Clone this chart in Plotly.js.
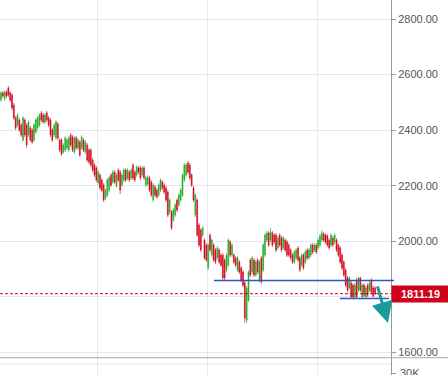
<!DOCTYPE html>
<html>
<head>
<meta charset="utf-8">
<script src="https://cdn.plot.ly/plotly-3.0.1.min.js"></script>
<style>html,body{margin:0;padding:0;background:#fff;}#chart{width:448px;height:375px;}</style>
</head>
<body>
<div id="chart"></div>
<script>
const openP = [2508,2534,2512,2537,2552,2534,2526,2490,2444,2418,
2436,2418,2364,2436,2418,2382,2408,2400,2364,2393,
2408,2418,2462,2454,2429,2462,2444,2436,2400,2382,
2372,2422,2364,2364,2321,2328,2336,2328,2382,2375,
2321,2372,2336,2357,2336,2364,2321,2346,2328,2328,
2292,2274,2264,2210,2238,2220,2202,2156,2166,2184,
2238,2213,2249,2199,2256,2249,2202,2220,2256,2228,
2249,2228,2274,2249,2238,2264,2264,2238,2264,2202,
2206,2228,2213,2148,2195,2184,2166,2184,2213,2202,
2192,2177,2105,2105,2076,2094,2148,2130,2148,2166,
2220,2238,2282,2274,2238,2192,2094,2148,2058,2040,
2022,2004,1986,1904,2022,1950,1986,1968,1940,1968,
1950,1950,1932,1896,1914,1997,1950,1950,1940,1896,
1925,1904,1889,1850,1716,1788,1932,1889,1932,1878,
1932,1860,1940,1896,1950,2004,2030,2004,2030,2022,
2022,1976,2022,2012,1976,2004,1997,1986,1968,1950,
1925,1940,1976,1940,1914,1950,1925,1968,1940,1950,
1986,1968,1986,1976,1986,2004,2026,2022,2019,2004,
1986,2012,1997,2004,1986,1976,1950,1925,1896,1868,
1832,1850,1842,1799,1860,1824,1868,1799,1842,1799,
1842,1824,1860,1832,1832];
const highP = [2541,2541,2544,2544,2559,2541,2533,2498,2451,2461,
2443,2425,2451,2443,2425,2436,2415,2407,2425,2443,
2451,2461,2469,2461,2461,2469,2451,2443,2407,2425,
2436,2429,2371,2371,2353,2379,2371,2379,2389,2382,
2379,2379,2371,2364,2382,2371,2364,2353,2335,2335,
2299,2281,2271,2256,2245,2227,2209,2191,2227,2235,
2245,2256,2256,2245,2263,2256,2245,2263,2263,2263,
2256,2263,2281,2256,2274,2271,2271,2271,2271,2235,
2238,2235,2220,2209,2202,2191,2209,2227,2220,2209,
2199,2184,2155,2112,2119,2137,2155,2173,2191,2245,
2281,2281,2289,2281,2245,2199,2173,2155,2065,2047,
2055,2011,1993,1993,2029,2011,1993,1975,1983,1975,
1957,1957,1939,1957,2011,2004,1993,1957,1947,1947,
1932,1911,1896,1857,1839,1896,1939,1947,1939,1932,
1939,1932,1947,1993,2029,2037,2037,2048,2037,2029,
2029,2019,2029,2019,2019,2011,2004,1993,1975,1957,
1968,1975,1983,1947,1957,1957,1968,1975,1975,1993,
1993,1993,1993,2011,2026,2040,2033,2029,2026,2011,
2029,2019,2029,2011,1993,1983,1957,1932,1903,1875,
1875,1857,1849,1849,1867,1872,1872,1849,1849,1839,
1849,1857,1867,1839,1839];
const lowP = [2501,2516,2505,2516,2519,2501,2472,2436,2400,2411,
2393,2375,2357,2375,2336,2375,2357,2350,2357,2386,
2400,2411,2429,2422,2422,2429,2411,2375,2357,2375,
2364,2364,2321,2307,2314,2321,2328,2321,2339,2321,
2314,2328,2328,2303,2328,2321,2314,2285,2278,2267,
2249,2231,2213,2202,2184,2177,2141,2148,2159,2177,
2195,2206,2206,2192,2213,2170,2195,2213,2213,2220,
2213,2220,2220,2213,2231,2242,2220,2231,2220,2195,
2199,2177,2159,2141,2159,2152,2159,2177,2184,2170,
2141,2087,2098,2040,2069,2087,2105,2123,2141,2159,
2213,2231,2242,2220,2195,2141,2087,2015,1979,1961,
2015,1933,1925,1897,1961,1943,1925,1918,1933,1918,
1907,1860,1860,1889,1907,1943,1943,1918,1907,1889,
1882,1853,1835,1706,1706,1781,1871,1882,1871,1871,
1882,1853,1846,1889,1943,1997,1979,1997,1979,1990,
1961,1969,1979,1961,1969,1961,1943,1943,1933,1918,
1918,1933,1925,1889,1907,1897,1918,1933,1933,1943,
1954,1961,1954,1969,1979,1997,1997,1990,1979,1969,
1979,1979,1990,1961,1943,1918,1897,1871,1835,1817,
1825,1795,1795,1795,1795,1817,1817,1795,1799,1795,
1799,1817,1810,1799,1806];
const closeP = [2534,2523,2537,2523,2526,2508,2480,2444,2408,2454,
2400,2382,2444,2382,2346,2429,2364,2357,2418,2436,
2444,2454,2436,2429,2454,2436,2418,2382,2364,2418,
2429,2372,2328,2314,2346,2372,2364,2372,2346,2328,
2372,2336,2364,2310,2375,2328,2357,2292,2285,2274,
2256,2238,2220,2249,2192,2184,2148,2184,2220,2228,
2202,2249,2213,2238,2220,2184,2238,2256,2220,2256,
2220,2256,2228,2220,2267,2249,2228,2264,2228,2228,
2231,2184,2166,2202,2166,2159,2202,2220,2192,2177,
2148,2094,2148,2048,2112,2130,2112,2166,2184,2238,
2274,2274,2249,2228,2202,2148,2166,2022,1986,1968,
2048,1940,1932,1986,1968,2004,1932,1925,1976,1925,
1914,1868,1868,1950,2004,1950,1986,1925,1914,1940,
1889,1860,1842,1724,1832,1889,1878,1940,1878,1925,
1889,1925,1853,1986,2022,2030,1986,2033,1986,1997,
1968,2012,1986,1968,2012,1968,1950,1950,1940,1925,
1961,1968,1932,1896,1950,1904,1961,1940,1968,1986,
1961,1986,1961,2004,2019,2030,2004,1997,1986,1976,
2022,1986,2022,1968,1950,1925,1904,1878,1842,1824,
1868,1799,1799,1842,1799,1868,1824,1842,1806,1832,
1806,1850,1817,1802,1811.19];

const lastPrice = 1811.19;
const resistance = 1859;
const support = 1794;
const yTicks = [1600, 1800, 2000, 2200, 2400, 2600, 2800];
const yTickText = ['1600.00', '', '2000.00', '2200.00', '2400.00', '2600.00', '2800.00'];
const volTicks = [30000];
const volLabel = '30K';

const idx = openP.map((_, i) => i);
const N = idx.length;
const pxPer = 374 / (N - 1);
const xRange = [-1 / pxPer, (N - 1) + 16 / pxPer];
const gridX = [96, 206, 316].map(p => p / pxPer);

const FONT = 'Liberation Sans, Arial, sans-serif';
const RED = '#d0021b';
const GREEN = '#1faa1f';
const BLUE = '#2f55c8';

const trace = {
  type: 'candlestick',
  x: idx, open: openP, high: highP, low: lowP, close: closeP,
  xaxis: 'x', yaxis: 'y',
  increasing: {line: {color: GREEN, width: 0.6}, fillcolor: GREEN},
  decreasing: {line: {color: RED, width: 0.6}, fillcolor: RED},
  whiskerwidth: 0,
  hoverinfo: 'skip',
  showlegend: false
};

const layout = {
  width: 448, height: 375,
  margin: {l: 0, r: 57, t: 0, b: 0, pad: 0},
  paper_bgcolor: '#fff', plot_bgcolor: '#fff',
  showlegend: false,
  font: {family: FONT, size: 11, color: '#555'},
  xaxis: {
    range: xRange, anchor: 'y2', rangeslider: {visible: false},
    showticklabels: false, ticks: '', showline: false, zeroline: false,
    showgrid: true, gridcolor: '#e1e8ef', gridwidth: 1,
    tickmode: 'array', tickvals: gridX, fixedrange: true
  },
  yaxis: {
    domain: [0.0461, 1], range: [1580.7, 2868.4], side: 'right', anchor: 'x',
    tickmode: 'array', tickvals: yTicks, ticktext: yTickText,
    showline: true, linecolor: '#9a9a9a', linewidth: 1,
    ticks: 'outside', ticklen: 4, tickcolor: '#9a9a9a',
    showgrid: true, gridcolor: '#e1e8ef', gridwidth: 1, zeroline: false,
    tickfont: {family: FONT, size: 11, color: '#555'}
  },
  yaxis2: {
    domain: [0, 0.0461], range: [27778, 47000], side: 'right', anchor: 'x',
    tickmode: 'array', tickvals: volTicks, showticklabels: false,
    showline: true, linecolor: '#9a9a9a', linewidth: 1,
    ticks: 'outside', ticklen: 4, tickcolor: '#9a9a9a',
    showgrid: false, zeroline: false
  },
  shapes: [
    {type: 'line', xref: 'paper', yref: 'paper', x0: 0, x1: 448 / 391, y0: 0.0461, y1: 0.0461,
     line: {color: '#a8a8a8', width: 1}},
    {type: 'line', xref: 'paper', yref: 'paper', x0: 0, x1: 1, y0: 0.0293, y1: 0.0293,
     line: {color: '#e1e8ef', width: 1}},
    {type: 'line', xref: 'paper', yref: 'y', x0: 0, x1: 1, y0: lastPrice, y1: lastPrice,
     line: {color: RED, width: 1, dash: '3px,2px'}},
    {type: 'line', xref: 'paper', yref: 'y', x0: 214 / 391, x1: 394 / 391, y0: resistance, y1: resistance,
     line: {color: BLUE, width: 1.5}},
    {type: 'line', xref: 'paper', yref: 'y', x0: 340 / 391, x1: 389 / 391, y0: support, y1: support,
     line: {color: BLUE, width: 1.5}}
  ],
  annotations: [
    {xref: 'paper', yref: 'y', x: 1, y: lastPrice, xanchor: 'left', yanchor: 'middle',
     text: '<b>' + lastPrice.toFixed(2) + '</b>', showarrow: false,
     bgcolor: RED, width: 55, height: 14, borderpad: 1, align: 'center',
     font: {family: FONT, size: 11, color: '#fff'}},
    {xref: 'paper', yref: 'y2', x: 399 / 391, y: volTicks[0], xanchor: 'left', yanchor: 'middle',
     text: volLabel, showarrow: false, borderpad: 0,
     font: {family: FONT, size: 11, color: '#555'}},
    {xref: 'x', yref: 'y', x: 387 / pxPer, y: 1706, ax: -11, ay: -38,
     showarrow: true, arrowhead: 2, arrowsize: 1.4, arrowwidth: 3, arrowcolor: '#179b9b',
     text: ''}
  ]
};

Plotly.newPlot('chart', [trace], layout, {displayModeBar: false, staticPlot: true});
</script>
</body>
</html>
